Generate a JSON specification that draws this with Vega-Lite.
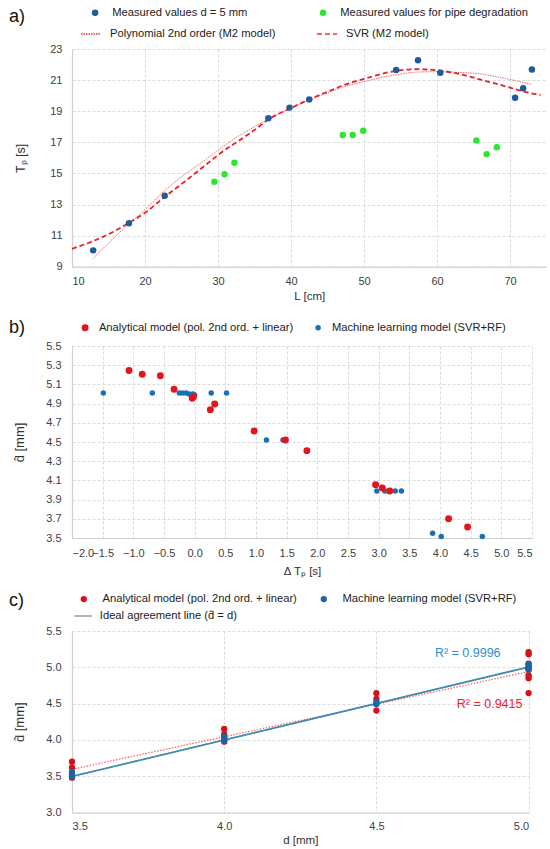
{
  "$schema": "https://vega.github.io/schema/vega-lite/v6.json",
  "background": "white",
  "padding": {"left": 9, "top": 7, "right": 0, "bottom": 0},
  "columns": 1,
  "align": "none",
  "spacing": 15,
  "datasets": {
    "a_points": [
      {"L": 12.9, "Tp": 10.05, "series": "Measured values d = 5 mm"},
      {"L": 17.8, "Tp": 11.79, "series": "Measured values d = 5 mm"},
      {"L": 22.7, "Tp": 13.57, "series": "Measured values d = 5 mm"},
      {"L": 36.9, "Tp": 18.54, "series": "Measured values d = 5 mm"},
      {"L": 39.8, "Tp": 19.23, "series": "Measured values d = 5 mm"},
      {"L": 42.5, "Tp": 19.76, "series": "Measured values d = 5 mm"},
      {"L": 54.4, "Tp": 21.65, "series": "Measured values d = 5 mm"},
      {"L": 57.4, "Tp": 22.27, "series": "Measured values d = 5 mm"},
      {"L": 60.45, "Tp": 21.48, "series": "Measured values d = 5 mm"},
      {"L": 70.7, "Tp": 19.87, "series": "Measured values d = 5 mm"},
      {"L": 71.8, "Tp": 20.47, "series": "Measured values d = 5 mm"},
      {"L": 73.0, "Tp": 21.68, "series": "Measured values d = 5 mm"},
      {"L": 29.5, "Tp": 14.47, "series": "Measured values for pipe degradation"},
      {"L": 30.9, "Tp": 14.94, "series": "Measured values for pipe degradation"},
      {"L": 32.25, "Tp": 15.69, "series": "Measured values for pipe degradation"},
      {"L": 47.1, "Tp": 17.47, "series": "Measured values for pipe degradation"},
      {"L": 48.45, "Tp": 17.47, "series": "Measured values for pipe degradation"},
      {"L": 49.9, "Tp": 17.75, "series": "Measured values for pipe degradation"},
      {"L": 65.4, "Tp": 17.11, "series": "Measured values for pipe degradation"},
      {"L": 66.8, "Tp": 16.24, "series": "Measured values for pipe degradation"},
      {"L": 68.2, "Tp": 16.68, "series": "Measured values for pipe degradation"}
    ],
    "a_lines": [
      {"L": 12.9, "Tp": 9.53, "model": "Polynomial 2nd order (M2 model)"},
      {"L": 15.6, "Tp": 10.8, "model": "Polynomial 2nd order (M2 model)"},
      {"L": 17.9, "Tp": 11.8, "model": "Polynomial 2nd order (M2 model)"},
      {"L": 20.1, "Tp": 12.72, "model": "Polynomial 2nd order (M2 model)"},
      {"L": 22.6, "Tp": 13.85, "model": "Polynomial 2nd order (M2 model)"},
      {"L": 25.5, "Tp": 14.96, "model": "Polynomial 2nd order (M2 model)"},
      {"L": 28.2, "Tp": 15.85, "model": "Polynomial 2nd order (M2 model)"},
      {"L": 30.0, "Tp": 16.5, "model": "Polynomial 2nd order (M2 model)"},
      {"L": 33.0, "Tp": 17.45, "model": "Polynomial 2nd order (M2 model)"},
      {"L": 35.0, "Tp": 18.0, "model": "Polynomial 2nd order (M2 model)"},
      {"L": 37.0, "Tp": 18.5, "model": "Polynomial 2nd order (M2 model)"},
      {"L": 40.0, "Tp": 19.2, "model": "Polynomial 2nd order (M2 model)"},
      {"L": 42.5, "Tp": 19.72, "model": "Polynomial 2nd order (M2 model)"},
      {"L": 45.0, "Tp": 20.18, "model": "Polynomial 2nd order (M2 model)"},
      {"L": 47.1, "Tp": 20.55, "model": "Polynomial 2nd order (M2 model)"},
      {"L": 50.0, "Tp": 20.9, "model": "Polynomial 2nd order (M2 model)"},
      {"L": 54.5, "Tp": 21.35, "model": "Polynomial 2nd order (M2 model)"},
      {"L": 57.4, "Tp": 21.52, "model": "Polynomial 2nd order (M2 model)"},
      {"L": 60.0, "Tp": 21.54, "model": "Polynomial 2nd order (M2 model)"},
      {"L": 62.75, "Tp": 21.5, "model": "Polynomial 2nd order (M2 model)"},
      {"L": 65.9, "Tp": 21.4, "model": "Polynomial 2nd order (M2 model)"},
      {"L": 70.0, "Tp": 21.04, "model": "Polynomial 2nd order (M2 model)"},
      {"L": 73.0, "Tp": 20.72, "model": "Polynomial 2nd order (M2 model)"},
      {"L": 10.0, "Tp": 10.15, "model": "SVR (M2 model)"},
      {"L": 12.9, "Tp": 10.65, "model": "SVR (M2 model)"},
      {"L": 15.6, "Tp": 11.23, "model": "SVR (M2 model)"},
      {"L": 17.9, "Tp": 11.85, "model": "SVR (M2 model)"},
      {"L": 20.1, "Tp": 12.5, "model": "SVR (M2 model)"},
      {"L": 22.6, "Tp": 13.45, "model": "SVR (M2 model)"},
      {"L": 25.5, "Tp": 14.5, "model": "SVR (M2 model)"},
      {"L": 28.2, "Tp": 15.5, "model": "SVR (M2 model)"},
      {"L": 30.0, "Tp": 16.18, "model": "SVR (M2 model)"},
      {"L": 33.0, "Tp": 17.15, "model": "SVR (M2 model)"},
      {"L": 35.0, "Tp": 17.79, "model": "SVR (M2 model)"},
      {"L": 37.0, "Tp": 18.5, "model": "SVR (M2 model)"},
      {"L": 40.0, "Tp": 19.2, "model": "SVR (M2 model)"},
      {"L": 42.5, "Tp": 19.76, "model": "SVR (M2 model)"},
      {"L": 45.0, "Tp": 20.25, "model": "SVR (M2 model)"},
      {"L": 47.1, "Tp": 20.65, "model": "SVR (M2 model)"},
      {"L": 50.0, "Tp": 21.08, "model": "SVR (M2 model)"},
      {"L": 54.5, "Tp": 21.6, "model": "SVR (M2 model)"},
      {"L": 57.4, "Tp": 21.7, "model": "SVR (M2 model)"},
      {"L": 60.0, "Tp": 21.63, "model": "SVR (M2 model)"},
      {"L": 62.75, "Tp": 21.43, "model": "SVR (M2 model)"},
      {"L": 65.9, "Tp": 21.04, "model": "SVR (M2 model)"},
      {"L": 70.0, "Tp": 20.52, "model": "SVR (M2 model)"},
      {"L": 71.9, "Tp": 20.26, "model": "SVR (M2 model)"},
      {"L": 74.2, "Tp": 20.05, "model": "SVR (M2 model)"}
    ],
    "b_points": [
      {"dT": -1.49, "dhat": 5.01, "model": "Machine learning model (SVR+RF)"},
      {"dT": -0.69, "dhat": 5.01, "model": "Machine learning model (SVR+RF)"},
      {"dT": -0.25, "dhat": 5.01, "model": "Machine learning model (SVR+RF)"},
      {"dT": -0.2, "dhat": 5.01, "model": "Machine learning model (SVR+RF)"},
      {"dT": -0.14, "dhat": 5.01, "model": "Machine learning model (SVR+RF)"},
      {"dT": -0.09, "dhat": 5.0, "model": "Machine learning model (SVR+RF)"},
      {"dT": -0.03, "dhat": 5.0, "model": "Machine learning model (SVR+RF)"},
      {"dT": 0.0, "dhat": 4.99, "model": "Machine learning model (SVR+RF)"},
      {"dT": 0.27, "dhat": 5.01, "model": "Machine learning model (SVR+RF)"},
      {"dT": 0.52, "dhat": 5.01, "model": "Machine learning model (SVR+RF)"},
      {"dT": 1.17, "dhat": 4.52, "model": "Machine learning model (SVR+RF)"},
      {"dT": 1.44, "dhat": 4.52, "model": "Machine learning model (SVR+RF)"},
      {"dT": 2.97, "dhat": 3.99, "model": "Machine learning model (SVR+RF)"},
      {"dT": 3.1, "dhat": 3.99, "model": "Machine learning model (SVR+RF)"},
      {"dT": 3.27, "dhat": 3.99, "model": "Machine learning model (SVR+RF)"},
      {"dT": 3.37, "dhat": 3.99, "model": "Machine learning model (SVR+RF)"},
      {"dT": 3.88, "dhat": 3.55, "model": "Machine learning model (SVR+RF)"},
      {"dT": 4.02, "dhat": 3.515, "model": "Machine learning model (SVR+RF)"},
      {"dT": 4.69, "dhat": 3.515, "model": "Machine learning model (SVR+RF)"},
      {"dT": -1.07, "dhat": 5.245, "model": "Analytical model (pol. 2nd ord. + linear)"},
      {"dT": -0.855, "dhat": 5.205, "model": "Analytical model (pol. 2nd ord. + linear)"},
      {"dT": -0.56, "dhat": 5.19, "model": "Analytical model (pol. 2nd ord. + linear)"},
      {"dT": -0.336, "dhat": 5.05, "model": "Analytical model (pol. 2nd ord. + linear)"},
      {"dT": -0.04, "dhat": 4.955, "model": "Analytical model (pol. 2nd ord. + linear)"},
      {"dT": -0.02, "dhat": 4.97, "model": "Analytical model (pol. 2nd ord. + linear)"},
      {"dT": 0.256, "dhat": 4.837, "model": "Analytical model (pol. 2nd ord. + linear)"},
      {"dT": 0.327, "dhat": 4.895, "model": "Analytical model (pol. 2nd ord. + linear)"},
      {"dT": 0.97, "dhat": 4.615, "model": "Analytical model (pol. 2nd ord. + linear)"},
      {"dT": 1.48, "dhat": 4.52, "model": "Analytical model (pol. 2nd ord. + linear)"},
      {"dT": 1.83, "dhat": 4.41, "model": "Analytical model (pol. 2nd ord. + linear)"},
      {"dT": 2.95, "dhat": 4.055, "model": "Analytical model (pol. 2nd ord. + linear)"},
      {"dT": 3.06, "dhat": 4.02, "model": "Analytical model (pol. 2nd ord. + linear)"},
      {"dT": 3.18, "dhat": 3.99, "model": "Analytical model (pol. 2nd ord. + linear)"},
      {"dT": 4.14, "dhat": 3.7, "model": "Analytical model (pol. 2nd ord. + linear)"},
      {"dT": 4.45, "dhat": 3.615, "model": "Analytical model (pol. 2nd ord. + linear)"}
    ],
    "c_points": [
      {"d": 3.5, "dhat": 3.7, "model": "Analytical model (pol. 2nd ord. + linear)"},
      {"d": 3.5, "dhat": 3.62, "model": "Analytical model (pol. 2nd ord. + linear)"},
      {"d": 3.5, "dhat": 3.48, "model": "Analytical model (pol. 2nd ord. + linear)"},
      {"d": 4.0, "dhat": 4.15, "model": "Analytical model (pol. 2nd ord. + linear)"},
      {"d": 4.0, "dhat": 4.08, "model": "Analytical model (pol. 2nd ord. + linear)"},
      {"d": 4.0, "dhat": 4.045, "model": "Analytical model (pol. 2nd ord. + linear)"},
      {"d": 4.0, "dhat": 3.976, "model": "Analytical model (pol. 2nd ord. + linear)"},
      {"d": 4.5, "dhat": 4.644, "model": "Analytical model (pol. 2nd ord. + linear)"},
      {"d": 4.5, "dhat": 4.565, "model": "Analytical model (pol. 2nd ord. + linear)"},
      {"d": 4.5, "dhat": 4.404, "model": "Analytical model (pol. 2nd ord. + linear)"},
      {"d": 5.0, "dhat": 5.21, "model": "Analytical model (pol. 2nd ord. + linear)"},
      {"d": 5.0, "dhat": 5.18, "model": "Analytical model (pol. 2nd ord. + linear)"},
      {"d": 5.0, "dhat": 5.05, "model": "Analytical model (pol. 2nd ord. + linear)"},
      {"d": 5.0, "dhat": 4.97, "model": "Analytical model (pol. 2nd ord. + linear)"},
      {"d": 5.0, "dhat": 4.89, "model": "Analytical model (pol. 2nd ord. + linear)"},
      {"d": 5.0, "dhat": 4.85, "model": "Analytical model (pol. 2nd ord. + linear)"},
      {"d": 5.0, "dhat": 4.645, "model": "Analytical model (pol. 2nd ord. + linear)"},
      {"d": 3.5, "dhat": 3.56, "model": "Machine learning model (SVR+RF)"},
      {"d": 3.5, "dhat": 3.53, "model": "Machine learning model (SVR+RF)"},
      {"d": 3.5, "dhat": 3.5, "model": "Machine learning model (SVR+RF)"},
      {"d": 4.0, "dhat": 4.04, "model": "Machine learning model (SVR+RF)"},
      {"d": 4.0, "dhat": 4.01, "model": "Machine learning model (SVR+RF)"},
      {"d": 4.0, "dhat": 3.99, "model": "Machine learning model (SVR+RF)"},
      {"d": 4.5, "dhat": 4.52, "model": "Machine learning model (SVR+RF)"},
      {"d": 4.5, "dhat": 4.49, "model": "Machine learning model (SVR+RF)"},
      {"d": 5.0, "dhat": 5.04, "model": "Machine learning model (SVR+RF)"},
      {"d": 5.0, "dhat": 5.01, "model": "Machine learning model (SVR+RF)"},
      {"d": 5.0, "dhat": 4.99, "model": "Machine learning model (SVR+RF)"},
      {"d": 5.0, "dhat": 4.97, "model": "Machine learning model (SVR+RF)"}
    ],
    "c_ideal": [
      {"d": 3.5, "dhat": 3.5, "name": "Ideal agreement line (d̂ = d)"},
      {"d": 5.0, "dhat": 5.0, "name": "Ideal agreement line (d̂ = d)"}
    ],
    "c_fit": [
      {"d": 3.5, "dhat": 3.595, "fit": "AN"},
      {"d": 5.0, "dhat": 4.94, "fit": "AN"},
      {"d": 3.5, "dhat": 3.495, "fit": "ML"},
      {"d": 5.0, "dhat": 5.005, "fit": "ML"}
    ],
    "c_r2": [
      {"d": 4.8, "dhat": 5.2, "label": "R² = 0.9996", "fit": "ML"},
      {"d": 4.872, "dhat": 4.5, "label": "R² = 0.9415", "fit": "AN"}
    ]
  },
  "concat": [
    {
      "width": 474.5,
      "height": 217.7,
      "title": {"text": "a)", "anchor": "start", "frame": "group", "dx": -63, "offset": -19, "fontSize": 18, "fontWeight": "normal", "color": "#111"},
      "encoding": {
        "x": {"field": "L", "type": "quantitative", "scale": {"domain": [10, 75], "nice": false, "zero": false},
          "axis": {"values": [10, 20, 30, 40, 50, 60, 70], "title": "L [cm]", "titlePadding": 4, "labelPadding": 9}},
        "y": {"field": "Tp", "type": "quantitative", "scale": {"domain": [9, 23], "nice": false, "zero": false},
          "axis": {"values": [9, 11, 13, 15, 17, 19, 21, 23], "title": "Tₚ [s]", "titlePadding": 22, "labelPadding": 10, "titleFontSize": 12.5}}
      },
      "layer": [
        {
          "data": {"name": "a_lines"},
          "mark": {"type": "line", "interpolate": "monotone"},
          "encoding": {
            "strokeDash": {"field": "model", "type": "nominal",
              "scale": {"domain": ["Polynomial 2nd order (M2 model)", "SVR (M2 model)"], "range": [[1.5, 1], [5, 3]]},
              "legend": {"orient": "none", "legendX": 8, "legendY": -26.3, "columns": 2, "columnPadding": 38, "symbolType": "stroke", "symbolSize": 400, "symbolStrokeWidth": 1.5, "symbolStrokeColor": "#ee3333", "labelOffset": 8, "title": null}},
            "stroke": {"field": "model", "type": "nominal",
              "scale": {"domain": ["Polynomial 2nd order (M2 model)", "SVR (M2 model)"], "range": ["#f26a6a", "#e8202a"]}, "legend": null},
            "strokeWidth": {"field": "model", "type": "nominal",
              "scale": {"domain": ["Polynomial 2nd order (M2 model)", "SVR (M2 model)"], "range": [1, 1.8]}, "legend": null}
          }
        },
        {
          "data": {"name": "a_points"},
          "mark": {"type": "circle", "size": 42, "opacity": 1},
          "encoding": {
            "color": {"field": "series", "type": "nominal",
              "scale": {"domain": ["Measured values d = 5 mm", "Measured values for pipe degradation"], "range": ["#1f5c9c", "#2ee62e"]},
              "legend": {"orient": "none", "legendX": 17.5, "legendY": -42, "columns": 2, "columnPadding": 70, "symbolType": "circle", "symbolSize": 42, "labelOffset": 11.5, "title": null}}
          }
        }
      ],
      "resolve": {"scale": {"color": "independent"}}
    },
    {
      "width": 460,
      "height": 192,
      "title": {"text": "b)", "anchor": "start", "frame": "group", "dx": -63, "offset": -14.6, "fontSize": 18, "fontWeight": "normal", "color": "#111"},
      "data": {"name": "b_points"},
      "mark": {"type": "circle", "opacity": 1},
      "encoding": {
        "x": {"field": "dT", "type": "quantitative", "scale": {"domain": [-2, 5.5], "nice": false, "zero": false},
          "axis": {"values": [-2, -1.5, -1, -0.5, 0, 0.5, 1, 1.5, 2, 2.5, 3, 3.5, 4, 4.5, 5, 5.5], "format": ".1f", "title": "Δ Tₚ [s]", "titlePadding": 7, "labelPadding": 9}},
        "y": {"field": "dhat", "type": "quantitative", "scale": {"domain": [3.5, 5.5], "nice": false, "zero": false},
          "axis": {"values": [3.5, 3.7, 3.9, 4.1, 4.3, 4.5, 4.7, 4.9, 5.1, 5.3, 5.5], "format": ".1f", "title": "d̂ [mm]", "titlePadding": 19, "labelPadding": 11, "titleFontSize": 13}},
        "color": {"field": "model", "type": "nominal",
          "scale": {"domain": ["Analytical model (pol. 2nd ord. + linear)", "Machine learning model (SVR+RF)"], "range": ["#e3141c", "#1b6fb6"]},
          "legend": {"orient": "none", "legendX": 7.5, "legendY": -23.9, "columns": 2, "columnPadding": 19, "symbolType": "circle", "symbolSize": 40, "labelOffset": 8.2, "title": null}},
        "size": {"field": "model", "type": "nominal",
          "scale": {"domain": ["Analytical model (pol. 2nd ord. + linear)", "Machine learning model (SVR+RF)"], "range": [48, 30]}, "legend": null}
      }
    },
    {
      "width": 456.6,
      "height": 181.5,
      "title": {"text": "c)", "anchor": "start", "frame": "group", "dx": -63, "offset": -16.6, "fontSize": 18, "fontWeight": "normal", "color": "#111"},
      "encoding": {
        "x": {"field": "d", "type": "quantitative", "scale": {"domain": [3.5, 5], "nice": false, "zero": false},
          "axis": {"values": [3.5, 4, 4.5, 5], "format": ".1f", "title": "d [mm]", "titlePadding": 3, "labelPadding": 8}},
        "y": {"field": "dhat", "type": "quantitative", "scale": {"domain": [3, 5.5], "nice": false, "zero": false},
          "axis": {"values": [3, 3.5, 4, 4.5, 5, 5.5], "format": ".1f", "title": "d̂ [mm]", "titlePadding": 19, "labelPadding": 11, "titleFontSize": 13}}
      },
      "layer": [
        {
          "data": {"name": "c_ideal"},
          "mark": {"type": "line", "color": "#9a9a9a", "strokeWidth": 1.2},
          "encoding": {
            "strokeDash": {"field": "name", "type": "nominal", "scale": {"domain": ["Ideal agreement line (d̂ = d)"], "range": [[1, 0]]},
              "legend": {"orient": "none", "legendX": 1.5, "legendY": -24.5, "symbolType": "stroke", "symbolSize": 306, "symbolStrokeWidth": 1.5, "symbolStrokeColor": "#9a9a9a", "labelOffset": 7.3, "title": null}}
          }
        },
        {
          "data": {"name": "c_fit"},
          "transform": [{"filter": "datum.fit == 'AN'"}],
          "mark": {"type": "line", "color": "#ff5a5a", "strokeWidth": 1.2, "strokeDash": [1.5, 1.5]},
          "encoding": {}
        },
        {
          "data": {"name": "c_fit"},
          "transform": [{"filter": "datum.fit == 'ML'"}],
          "mark": {"type": "line", "color": "#3a8cb4", "strokeWidth": 1.6},
          "encoding": {}
        },
        {
          "data": {"name": "c_points"},
          "mark": {"type": "circle", "size": 40, "opacity": 1},
          "encoding": {
            "color": {"field": "model", "type": "nominal",
              "scale": {"domain": ["Analytical model (pol. 2nd ord. + linear)", "Machine learning model (SVR+RF)"], "range": ["#d4121c", "#1f63a6"]},
              "legend": {"orient": "none", "legendX": 6.2, "legendY": -37.6, "columns": 2, "columnPadding": 21, "symbolType": "circle", "symbolSize": 40, "labelOffset": 13.1, "title": null}}
          }
        },
        {
          "data": {"name": "c_r2"},
          "mark": {"type": "text", "fontSize": 12.5, "align": "center", "baseline": "middle"},
          "encoding": {
            "text": {"field": "label", "type": "nominal"},
            "color": {"condition": {"test": "datum.fit == 'ML'", "value": "#2b8fd0"}, "value": "#f0202a"}
          }
        }
      ]
    }
  ],
  "resolve": {"scale": {"color": "independent", "strokeDash": "independent", "size": "independent"}, "legend": {"color": "independent", "strokeDash": "independent"}},
  "config": {
    "font": "Liberation Sans",
    "view": {"stroke": null},
    "axis": {
      "grid": true,
      "gridColor": "#d2d2d2",
      "gridDash": [3, 2],
      "gridWidth": 0.8,
      "domainColor": "#d0d0d0",
      "domainWidth": 1.2,
      "ticks": false,
      "tickSize": 0,
      "labelOverlap": false,
      "labelColor": "#404040",
      "labelFontSize": 11,
      "titleColor": "#303030",
      "titleFontSize": 11.5,
      "titleFontWeight": "normal"
    },
    "legend": {"padding": 0, "labelFontSize": 11.2, "labelColor": "#222", "labelLimit": 400, "symbolOpacity": 1, "rowPadding": 4}
  }
}
